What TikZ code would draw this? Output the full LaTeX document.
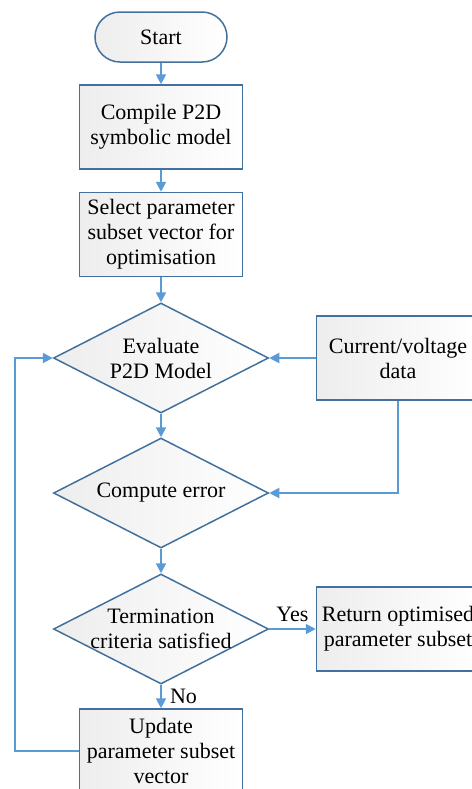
\documentclass[tikz,border=0pt]{standalone}
\usepackage{fontspec}
\setmainfont{LiberationSerif}[Extension=.ttf, UprightFont=*-Regular, BoldFont=*-Bold]
\usetikzlibrary{shapes.geometric,arrows.meta}
\definecolor{edgeblue}{HTML}{41719C}
\definecolor{lineblue}{HTML}{5B9BD5}
\tikzset{
       txt/.style = { font=\rmfamily\fontsize{11}{12.5}\selectfont, text=black,
                      align=center, inner sep=1pt },
    shaded/.style = { draw=edgeblue, line width=0.75pt, left color=black!7, right color=white },
  terminal/.style = { shaded, txt, rectangle, rounded corners=12.5pt,
                      minimum width=66pt, minimum height=25pt },
       box/.style = { shaded, txt, rectangle, minimum width=81.5pt, minimum height=42pt },
  decision/.style = { shaded, diamond, inner sep=0pt,
                      minimum width=107.5pt, minimum height=55pt },
     arrow/.style = { line width=1pt, color=lineblue, -{Triangle[length=5pt,width=5pt]} },
}

\begin{document}
\begin{tikzpicture}[x=0.5pt,y=-0.5pt]
  \useasboundingbox (0,0) rectangle (472,789);

  \node[terminal] (start)   at (161,37)    {Start};
  \node[box]      (compile) at (161,127)   {Compile P2D\\symbolic model};
  \node[box]      (select)  at (161,234.5) {Select parameter\\subset vector for\\optimisation};
  \node[decision] (eval)    at (161,358)   {};
  \node[txt]      (eval-t)  at (eval)      {Evaluate\\P2D Model};
  \node[box]      (data)    at (398,358)   {Current/voltage\\data};
  \node[decision] (compute) at (161,493)   {};
  \node[txt]      (compute-t) at (compute) {Compute error};
  \node[decision] (term)    at (161,629)   {};
  \node[txt]      (term-t)  at (term)      {Termination\\criteria satisfied};
  \node[box]      (result)  at (398,629)   {Return optimised\\parameter subset};
  \node[box]      (update)  at (161,751)   {Update\\parameter subset\\vector};
  \coordinate (back) at (15,751);

  \foreach \a/\b in {start/compile,compile/select,select/eval,eval/compute,compute/term} {
    \draw [arrow] (\a) -- (\b);
  }
  \draw [arrow] (data) -- (eval);
  \draw [arrow] (data.south) |- (compute.east);
  \draw [arrow] (term.east) -- node[txt, above=2pt] (yes) {Yes} (result.west);
  \draw [arrow] (term.south) -- node[txt, right=3pt] (no) {No} (update.north);
  \draw [arrow] (update.west) -- (back) |- (eval.west);

\end{tikzpicture}
\end{document}
